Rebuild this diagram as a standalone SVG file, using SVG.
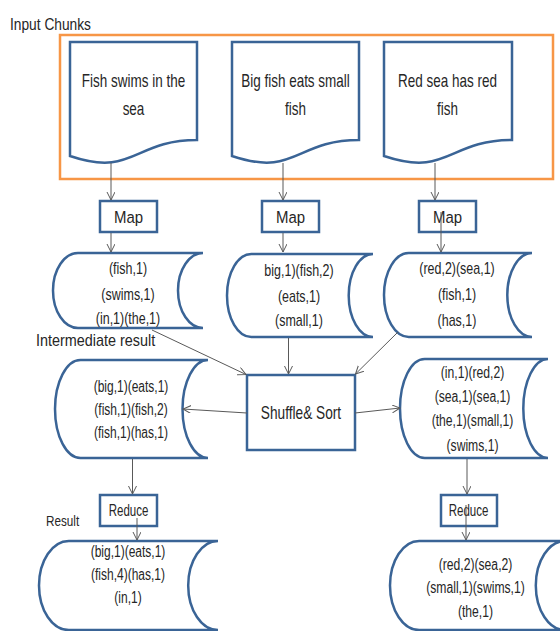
<svg xmlns="http://www.w3.org/2000/svg" width="560" height="631" viewBox="0 0 560 631">
<style>
  .shape { fill: #ffffff; stroke: #3A6496; stroke-width: 2.5; }
  .frame { fill: none; stroke: #F79646; stroke-width: 2.5; }
  .conn { stroke: #595959; stroke-width: 1; fill: none; }
  text { font-family: "Liberation Sans", Arial, sans-serif; fill: #262626; }
  .c { text-anchor: middle; }
  .doc { font-size: 18px; }
  .cyl { font-size: 16px; }
  .box { font-size: 17px; }
  .lbl { font-size: 16px; }
</style>
<defs>
  <marker id="arr" markerWidth="10" markerHeight="10" refX="8" refY="4" orient="auto" markerUnits="userSpaceOnUse">
    <path d="M0,0 L8,4 L0,8" fill="none" stroke="#595959" stroke-width="1"/>
  </marker>
</defs>

<g id="label-input">
  <text class="lbl" transform="translate(10 0) scale(0.86 1)" x="0" y="30">Input Chunks</text>
</g>
<g id="input-frame">
  <rect class="frame" x="60" y="35" width="493" height="144"/>
</g>

<g id="doc1">
  <path class="shape" d="M70,42 H197 V140 C133.5,140 133.5,177.5 70,156 Z"/>
  <text class="doc c" transform="translate(133.5 0) scale(0.75 1)"><tspan x="0" y="86.7">Fish swims in the</tspan><tspan x="0" y="115">sea</tspan></text>
</g>
<g id="doc2">
  <path class="shape" d="M232,42 H359 V140 C295.5,140 295.5,177.5 232,156 Z"/>
  <text class="doc c" transform="translate(295.5 0) scale(0.75 1)"><tspan x="0" y="86.7">Big fish eats small</tspan><tspan x="0" y="115">fish</tspan></text>
</g>
<g id="doc3">
  <path class="shape" d="M384,42 H512 V140 C448,140 448,177.5 384,156 Z"/>
  <text class="doc c" transform="translate(447.5 0) scale(0.75 1)"><tspan x="0" y="86.7">Red sea has red</tspan><tspan x="0" y="115">fish</tspan></text>
</g>

<g id="map1">
  <rect class="shape" x="100" y="201" width="57" height="31"/>
  <text class="box c" transform="translate(128.5 0) scale(0.88 1)" x="0" y="223">Map</text>
</g>
<g id="map2">
  <rect class="shape" x="262" y="201" width="57" height="31"/>
  <text class="box c" transform="translate(290.5 0) scale(0.88 1)" x="0" y="223">Map</text>
</g>
<g id="map3">
  <rect class="shape" x="419" y="201" width="57" height="31"/>
  <text class="box c" transform="translate(447.5 0) scale(0.88 1)" x="0" y="223">Map</text>
</g>

<g id="cyl1">
  <path class="shape" d="M78,253 H203 A25,37.5 0 0 0 203,328 H78 A25,37.5 0 0 1 78,253 Z"/>
  <text class="cyl c" transform="translate(128 0) scale(0.78 1)"><tspan x="0" y="274">(fish,1)</tspan><tspan x="0" y="300">(swims,1)</tspan><tspan x="0" y="324">(in,1)(the,1)</tspan></text>
</g>
<g id="cyl2">
  <path class="shape" d="M251.3,254 H373 A24.3,41.5 0 0 0 373,337 H251.3 A24.3,41.5 0 0 1 251.3,254 Z"/>
  <text class="cyl c" transform="translate(299 0) scale(0.78 1)"><tspan x="0" y="276">big,1)(fish,2)</tspan><tspan x="0" y="302">(eats,1)</tspan><tspan x="0" y="326">(small,1)</tspan></text>
</g>
<g id="cyl3">
  <path class="shape" d="M408.7,253 H532 A24.7,42 0 0 0 532,337 H408.7 A24.7,42 0 0 1 408.7,253 Z"/>
  <text class="cyl c" transform="translate(457 0) scale(0.78 1)"><tspan x="0" y="274">(red,2)(sea,1)</tspan><tspan x="0" y="300">(fish,1)</tspan><tspan x="0" y="326">(has,1)</tspan></text>
</g>

<g id="label-intermediate">
  <text class="lbl" transform="translate(36 0) scale(0.9 1)" x="0" y="346">Intermediate result</text>
</g>

<g id="shuffle">
  <rect class="shape" x="247" y="375" width="108" height="75"/>
  <text class="c" style="font-size:18px" transform="translate(301 0) scale(0.76 1)" x="0" y="419">Shuffle&amp; Sort</text>
</g>

<g id="inter-left">
  <path class="shape" d="M80.5,360 H208 A25.5,49 0 0 0 208,458 H80.5 A25.5,49 0 0 1 80.5,360 Z"/>
  <text class="cyl c" transform="translate(131 0) scale(0.75 1)"><tspan x="0" y="392">(big,1)(eats,1)</tspan><tspan x="0" y="415">(fish,1)(fish,2)</tspan><tspan x="0" y="438">(fish,1)(has,1)</tspan></text>
</g>
<g id="inter-right">
  <path class="shape" d="M424.7,359 H548 A24.7,49.5 0 0 0 548,458 H424.7 A24.7,49.5 0 0 1 424.7,359 Z"/>
  <text class="cyl c" transform="translate(472.5 0) scale(0.76 1)"><tspan x="0" y="378">(in,1)(red,2)</tspan><tspan x="0" y="402">(sea,1)(sea,1)</tspan><tspan x="0" y="426.5">(the,1)(small,1)</tspan><tspan x="0" y="451">(swims,1)</tspan></text>
</g>

<g id="reduce1">
  <rect class="shape" x="100" y="495" width="57" height="31"/>
  <text class="c" style="font-size:16px" transform="translate(128.5 0) scale(0.72 1)" x="0" y="516.5">Reduce</text>
</g>
<g id="reduce2">
  <rect class="shape" x="441" y="495" width="56" height="31"/>
  <text class="c" style="font-size:16px" transform="translate(468.5 0) scale(0.72 1)" x="0" y="516.5">Reduce</text>
</g>

<g id="label-result">
  <text style="font-size:15px" transform="translate(46 0) scale(0.78 1)" x="0" y="526">Result</text>
</g>

<g id="result-left">
  <path class="shape" d="M68.8,541 H218 A29.8,44.5 0 0 0 218,630 H68.8 A29.8,44.5 0 0 1 68.8,541 Z"/>
  <text class="cyl c" transform="translate(128 0) scale(0.75 1)"><tspan x="0" y="557">(big,1)(eats,1)</tspan><tspan x="0" y="580">(fish,4)(has,1)</tspan><tspan x="0" y="603.5">(in,1)</tspan></text>
</g>
<g id="result-right">
  <path class="shape" d="M419.2,541 H565 A29.2,44.5 0 0 0 565,630 H419.2 A29.2,44.5 0 0 1 419.2,541 Z"/>
  <text class="cyl c" transform="translate(475.5 0) scale(0.76 1)"><tspan x="0" y="570">(red,2)(sea,2)</tspan><tspan x="0" y="593.5">(small,1)(swims,1)</tspan><tspan x="0" y="617">(the,1)</tspan></text>
</g>

<g id="connectors">
  <line class="conn" x1="111" y1="163" x2="111" y2="200" marker-end="url(#arr)"/>
  <line class="conn" x1="283" y1="163" x2="283" y2="200" marker-end="url(#arr)"/>
  <line class="conn" x1="435" y1="163" x2="435" y2="200" marker-end="url(#arr)"/>
  <line class="conn" x1="111" y1="233" x2="111" y2="252" marker-end="url(#arr)"/>
  <line class="conn" x1="283" y1="233" x2="283" y2="252" marker-end="url(#arr)"/>
  <line class="conn" x1="441" y1="212" x2="441" y2="252" marker-end="url(#arr)"/>
  <line class="conn" x1="152" y1="330" x2="246" y2="374.5" marker-end="url(#arr)"/>
  <line class="conn" x1="288.5" y1="338" x2="288.5" y2="374" marker-end="url(#arr)"/>
  <line class="conn" x1="398" y1="332" x2="355.5" y2="374" marker-end="url(#arr)"/>
  <line class="conn" x1="247" y1="413" x2="183" y2="409" marker-end="url(#arr)"/>
  <line class="conn" x1="355" y1="413" x2="400" y2="408" marker-end="url(#arr)"/>
  <line class="conn" x1="132.5" y1="459" x2="132.5" y2="494" marker-end="url(#arr)"/>
  <line class="conn" x1="467" y1="459" x2="467" y2="494" marker-end="url(#arr)"/>
  <line class="conn" x1="137" y1="518" x2="137" y2="540" marker-end="url(#arr)"/>
  <line class="conn" x1="466" y1="505" x2="466" y2="540" marker-end="url(#arr)"/>
</g>
</svg>
